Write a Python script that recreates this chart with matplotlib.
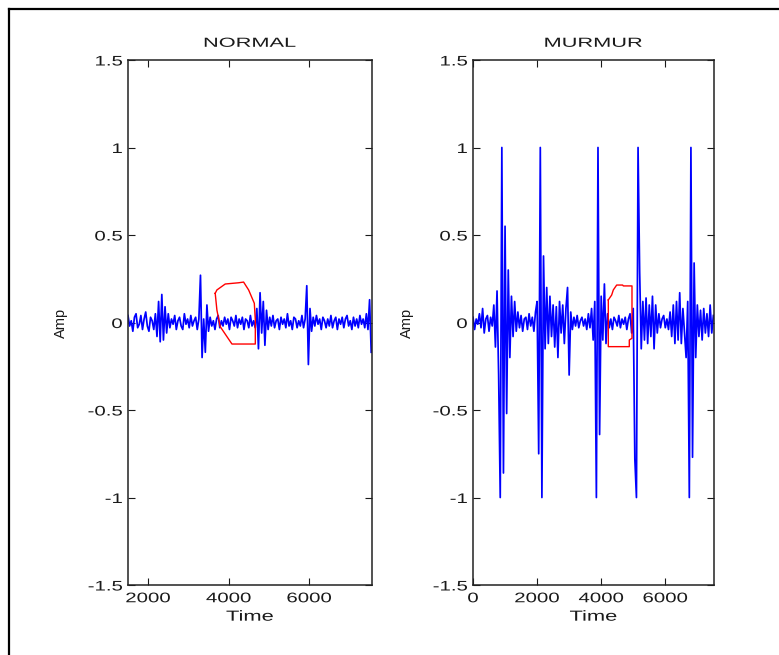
import matplotlib
matplotlib.use("Agg")
import matplotlib.pyplot as plt
import numpy as np
from matplotlib.lines import Line2D
from matplotlib.patheffects import AbstractPathEffect
from matplotlib.transforms import Affine2D

plt.rcParams['font.family'] = ['Liberation Sans', 'DejaVu Sans']

# ---------------- data ----------------
normal_t0 = 1500
normal_step = 40
normal_amp = [
    0.04, -0.02, 0.01, -0.05, 0.03, 0.05, -0.03, -0.01, 0.04, -0.04,
    0.02, 0.06, -0.02, -0.05, 0.03, 0.01, -0.04, 0.05,
    -0.08, 0.12, -0.11, 0.16, -0.10, 0.09, -0.06,
    0.05, -0.03, 0.02, -0.01, 0.04, -0.04, 0.01, 0.03, -0.02, -0.04,
    0.05, -0.01, 0.02, -0.03, 0.04, -0.02, 0.01, 0.03, -0.04, 0.02,
    0.27, -0.20, 0.02, -0.17, 0.10, -0.05,
    0.03, -0.02, 0.01, -0.04, 0.02, 0.04, -0.03, 0.01, -0.02, 0.03,
    -0.01, 0.02, -0.04, 0.03, 0.01, -0.02, 0.04, -0.03, 0.02, -0.01,
    0.03, -0.04, 0.02, 0.01, -0.03, 0.04, -0.02, 0.01, -0.03,
    0.08, -0.15, 0.17, -0.06, 0.12, -0.13, 0.07, -0.04,
    0.03, -0.02, 0.04, -0.03, 0.01, 0.02, -0.04, 0.03, -0.01, 0.02,
    -0.03, 0.05, -0.02, 0.01, -0.04, 0.03, 0.02, -0.03, 0.01, -0.02,
    0.04, -0.03, 0.02,
    0.21, -0.24, 0.08, -0.05,
    0.03, -0.02, 0.04, -0.01, 0.02, -0.04, 0.03, 0.01, -0.03, 0.02,
    -0.02, 0.04, -0.03, 0.01, 0.03, -0.04, 0.02, -0.01, 0.03, -0.03,
    0.02, 0.04, -0.02, 0.01, -0.04, 0.03, -0.02, 0.02, -0.03, 0.04,
    -0.01, 0.02, -0.03, 0.05, -0.04,
    0.13, -0.17,
]
normal_region_t = [3666, 3708, 3915, 4247, 4371, 4496, 4637, 4662, 4662,
                   4082, 3958, 3791, 3708, 3666]
normal_region_a = [0.167, 0.186, 0.220, 0.227, 0.231, 0.186, 0.110, 0.014,
                   -0.123, -0.123, -0.081, -0.024, 0.071, 0.167]

murmur_t0 = 0
murmur_step = 50
murmur_amp = [
    0.03, -0.04, 0.02, -0.01, 0.05, -0.03, 0.08, -0.06, 0.02, 0.04,
    -0.05, 0.03, -0.02,
    0.10, -0.14, 0.18, -0.30, -1.00, 1.00, -0.86, 0.55, -0.52, 0.30,
    -0.20,
    0.15, -0.08, 0.12, -0.05, 0.06, -0.03, 0.04, -0.05, 0.02, 0.03,
    -0.04, 0.05, -0.02, 0.03, -0.05, 0.06,
    0.12, -0.75, 1.00, -1.00, 0.38, -0.15, 0.20, -0.12, 0.15, -0.08,
    0.10, -0.14, 0.09,
    -0.20, 0.12, -0.06, 0.10, -0.12, 0.08, 0.20, -0.30, 0.06, -0.04,
    0.03,
    -0.02, 0.04, -0.03, 0.01, 0.03, -0.02, 0.02, -0.04, 0.05, -0.03,
    0.08, -0.10, 0.12,
    -1.00, 1.00, -0.64, 0.15, -0.10, 0.22, -0.12,
    0.05, -0.03, 0.02, -0.04, 0.03, 0.01, -0.02, 0.04, -0.03, 0.02,
    -0.01, 0.03, -0.04, 0.02, 0.05, -0.06, 0.08,
    -0.78, -1.00, 1.00, 0.29,
    -0.15, 0.12, -0.10, 0.14, -0.12, 0.10, -0.08, 0.15, -0.15, 0.10,
    -0.06, 0.05, -0.03, 0.02, 0.04, -0.03, 0.02, -0.04,
    0.06, -0.08, 0.10, -0.12, 0.12, -0.10, 0.17, -0.12, 0.08, -0.06,
    -0.20, 0.12,
    -1.00, 1.00, -0.77, 0.34, -0.20,
    0.10, -0.08, 0.07, -0.10, 0.08, -0.06, 0.05, -0.08, 0.10, -0.06,
    0.04,
]
murmur_region_t = [4222, 4327, 4378, 4483, 4670, 4690, 4961, 4961, 4877,
                   4877, 4222, 4222]
murmur_region_a = [0.129, 0.157, 0.186, 0.214, 0.214, 0.209, 0.209, -0.090,
                   -0.100, -0.138, -0.138, 0.129]

titles = ["NORMAL", "MURMUR"]
xlims = [(1500, 7560), (0, 7520)]
yticks = [-1.5, -1, -0.5, 0, 0.5, 1, 1.5]
ytick_labels = ["-1.5", "-1", "-0.5", "0", "0.5", "1", "1.5"]
xticks = [[2000, 4000, 6000], [0, 2000, 4000, 6000]]


# horizontally widened text rendering (reference text is stretched)
class StretchX(AbstractPathEffect):
    def __init__(self, sx, anchor="center"):
        super().__init__()
        self.sx = sx
        self.anchor = anchor

    def draw_path(self, renderer, gc, tpath, affine, rgbFace=None):
        ext = tpath.get_extents(affine)
        if self.anchor == "right":
            x0 = ext.x1
        elif self.anchor == "left":
            x0 = ext.x0
        else:
            x0 = 0.5 * (ext.x0 + ext.x1)
        st = Affine2D().translate(-x0, 0).scale(self.sx, 1.0).translate(x0, 0)
        renderer.draw_path(gc, tpath, affine + st, rgbFace)


TXT = "#1a1a1a"

# ---------------- figure ----------------
W, H = 779, 655
fig = plt.figure(figsize=(W / 100, H / 100), dpi=100)
fig.patch.set_facecolor("white")

# outer frame (top and left edges)
fx = 9 / W
fy = 1 - 9 / H
fig.add_artist(Line2D([fx, 1.0], [fy, fy], transform=fig.transFigure,
                      color="black", lw=1.6))
fig.add_artist(Line2D([fx, fx], [0.0, fy], transform=fig.transFigure,
                      color="black", lw=1.6))

rects = [
    [128 / W, 1 - 585 / H, 244 / W, 525 / H],
    [473 / W, 1 - 585 / H, 241 / W, 525 / H],
]

series = [
    (normal_t0, normal_step, normal_amp, normal_region_t, normal_region_a),
    (murmur_t0, murmur_step, murmur_amp, murmur_region_t, murmur_region_a),
]

for k in range(2):
    ax = fig.add_axes(rects[k])
    t0, step, amp, rt, ra = series[k]
    t = t0 + step * np.arange(len(amp))
    ax.plot(t, amp, color="#0000ff", lw=1.25)
    ax.plot(rt, ra, color="#ff0000", lw=1.0)
    ax.set_xlim(*xlims[k])
    ax.set_ylim(-1.5, 1.5)
    ax.set_yticks(yticks)
    ax.set_yticklabels(ytick_labels)
    ax.set_xticks(xticks[k])
    ax.set_xticklabels([str(v) for v in xticks[k]])
    ax.tick_params(direction="in", top=True, right=True, length=5,
                   width=0.8, labelsize=10, colors=TXT)
    ax.tick_params(axis="x", pad=4.5)
    ax.tick_params(axis="y", pad=4)
    for lab in ax.get_xticklabels():
        lab.set_path_effects([StretchX(1.47, "center")])
    for lab in ax.get_yticklabels():
        lab.set_path_effects([StretchX(1.47, "right")])
    for s in ax.spines.values():
        s.set_linewidth(1.1)
        s.set_color("#222222")
    ttl = ax.set_title(titles[k], fontsize=9.5, pad=9.5, color=TXT)
    ttl.set_path_effects([StretchX(1.65, "center")])
    xl = ax.set_xlabel("Time", fontsize=10.5, color=TXT)
    xl.set_path_effects([StretchX(1.5, "center")])
    ax.set_ylabel("Amp", fontsize=10.5, color=TXT)
    ax.xaxis.set_label_coords(0.5, -0.047)
    ax.yaxis.set_label_coords(-0.245, 0.5)

fig.savefig("out.png", dpi=100, facecolor="white")
